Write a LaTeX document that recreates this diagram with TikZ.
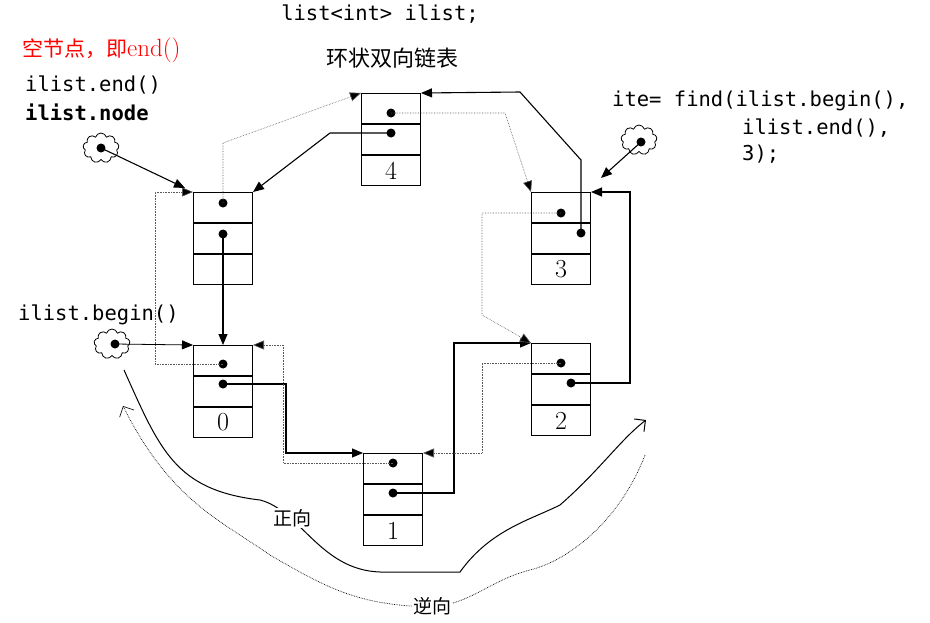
\documentclass[tikz,border=0pt]{standalone}
\usepackage{fontspec}
\setmonofont{DejaVu Sans Mono}
\newfontfamily\cjk{Noto Sans CJK SC}
\usetikzlibrary{shapes.symbols,arrows.meta,calc}
\tikzset{
 cell/.style={draw,line width=1pt,minimum width=59pt,minimum height=30pt,inner sep=0pt,font=\rmfamily\fontsize{26}{28}\selectfont},
 dot/.style={circle,fill,inner sep=0pt,minimum size=9pt},
 nxt/.style={line width=1.1pt,-{Triangle[length=11pt,width=9pt]}},
 prv/.style={densely dotted,line width=0.6pt,gray!70!black,-{Triangle[length=11pt,width=9pt,fill=black]}},
 code/.style={font=\ttfamily\fontsize{20.5}{24}\selectfont,inner sep=0pt,anchor=west},
 cloudy/.style={cloud,cloud puffs=9,draw,line width=0.8pt,minimum width=36pt,minimum height=30pt,inner sep=0pt},
}
\newcommand{\mkbox}[5]{% name, x center, y top, label, dummy
 \node[cell,anchor=north] (#1a) at (#2,#3) {};
 \node[cell,anchor=north] (#1b) at (#1a.south) {};
 \node[cell,anchor=north] (#1c) at (#1b.south) {#4};
}
\begin{document}
\begin{tikzpicture}[x=1pt,y=-1pt]
\useasboundingbox (0,0) rectangle (930,622);
\mkbox{E}{223}{192}{}{}
\draw[line width=1pt] (Ec.north) -- (Ec.south);
\mkbox{F}{391}{93}{4}{}
\mkbox{T}{561}{192}{3}{}
\mkbox{W}{561}{343}{2}{}
\mkbox{Z}{223}{345}{0}{}
\mkbox{O}{393}{453}{1}{}
% dots
\node[dot] (Ep) at (223,203) {}; \node[dot] (En) at (223,234) {};
\node[dot] (Fp) at (391,113) {}; \node[dot] (Fn) at (391,133) {};
\node[dot] (Tp) at (561,213) {}; \node[dot] (Tn) at (581,233) {};
\node[dot] (Wp) at (561,363) {}; \node[dot] (Wn) at (571,383) {};
\node[dot] (Zp) at (223,364) {}; \node[dot] (Zn) at (223,384) {};
\node[dot] (Op) at (393,463) {}; \node[dot] (On) at (393,493) {};
% next links
\draw[nxt] (En.center) -- (Za.north);
\draw[nxt] (Zn.center) -- (286,384) -- (286,453) -- (Oa.north west);
\draw[nxt] (On.center) -- (454,493) -- (454,343) -- (Wa.north west);
\draw[nxt] (Wn.center) -- (630,383) -- (630,192) -- (Ta.north east);
\draw[nxt] (Tn.center) -- (581,160) -- (520,92) -- (Fa.north east);
\draw[nxt] (Fn.center) -- (330,133) -- (Ea.north east);
% prev links
\draw[prv] (Ep.center) -- (223,143) -- (Fa.north west);
\draw[prv] (Fp.center) -- (505,113) -- (Ta.north west);
\draw[prv] (Tp.center) -- (482,213) -- (482,315) -- (Wa.north west);
\draw[prv] (Wp.center) -- (482,363) -- (482,453) -- (Oa.north east);
\draw[prv] (Op.center) -- (283,463) -- (283,345) -- (Za.north east);
\draw[prv] (Zp.center) -- (155,364) -- (155,192) -- (Ea.north west);
% clouds
\node[cloudy] (c1) at (101,148) {}; \node[dot] (d1) at (101,148) {};
\node[cloudy] (c2) at (112,344) {}; \node[dot] (d2) at (115,344) {};
\node[cloudy] (c3) at (639,140) {}; \node[dot] (d3) at (641,142) {};
\draw[nxt] (d1.center) -- (185,188);
\draw[nxt,line width=0.8pt] (d2.center) -- (Za.north west);
\draw[nxt] (d3.center) -- (601,178);
% texts
\node[code,anchor=center] (t0) at (380,14) {list<int> ilist;};
\node[anchor=west,inner sep=0pt,text=red,font=\cjk\fontsize{21}{24}\selectfont] (t1) at (22,50) {空节点，即\rmfamily\fontsize{25}{28}\selectfont end()};
\node[code] (t2) at (25,85) {ilist.end()};
\node[code,font=\ttfamily\bfseries\fontsize{20.5}{24}\selectfont] (t3) at (25,112) {ilist.node};
\node[code] (t4) at (18,315) {ilist.begin()};
\node[font=\cjk\fontsize{22}{24}\selectfont] (t5) at (392,58) {环状双向链表};
\node[code] (t6) at (612,101) {ite= find(ilist.begin(),};
\node[code] (t7) at (742,128) {ilist.end(),};
\node[code] (t8) at (742,154) {3);};
% direction curves
\draw[line width=1pt,-{Straight Barb[length=8pt]}] (124,370) .. controls (160,450) and (175,490) .. (260,500)
 .. controls (300,510) and (320,570) .. (380,572) -- (460,572) .. controls (490,530) and (530,520) .. (560,505)
 .. controls (600,470) and (620,440) .. (646,420);
\draw[densely dotted,line width=0.7pt,-{Straight Barb[length=8pt]}] (645,455) .. controls (620,520) and (570,560) .. (530,570)
 .. controls (490,580) and (470,605) .. (430,607) .. controls (360,605) and (330,590) .. (270,555)
 .. controls (220,520) and (170,500) .. (123,406);
\node[font=\cjk\fontsize{19}{22}\selectfont,fill=white,inner sep=1pt] (t9) at (292,518) {正向};
\node[font=\cjk\fontsize{19}{22}\selectfont,fill=white,inner sep=1pt] (t10) at (432,606) {逆向};
\end{tikzpicture}
\end{document}
